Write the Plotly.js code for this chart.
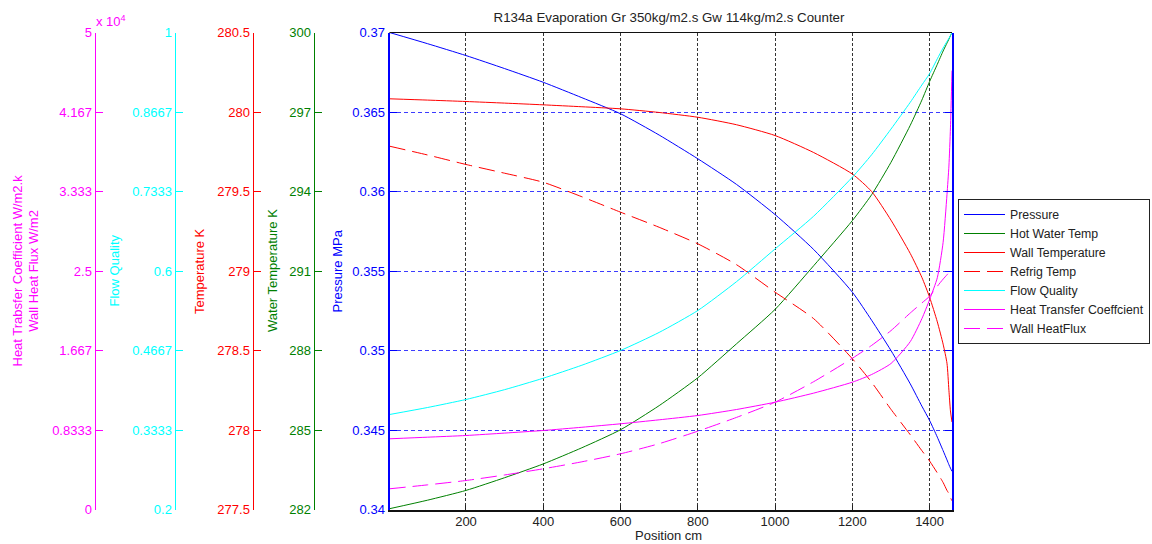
<!DOCTYPE html>
<html><head><meta charset="utf-8">
<script src="https://cdn.plot.ly/plotly-3.0.1.min.js"></script>
<style>html,body{margin:0;padding:0;background:#fff}#chart{width:1152px;height:544px}</style>
</head><body><div id="chart"></div>
<script>
// ---- data ----
const position     = [2, 100, 200, 300, 400, 500, 600, 700, 800, 900, 1000, 1100, 1200, 1250, 1300, 1350, 1380, 1400, 1420, 1435, 1445, 1450, 1454, 1458];
const pressure     = [0.37000, 0.36930, 0.36855, 0.36773, 0.36687, 0.36590, 0.36489, 0.36355, 0.36206, 0.36045, 0.35855, 0.35635, 0.35367, 0.35190, 0.35000, 0.34790, 0.34650, 0.34560, 0.34455, 0.34370, 0.34312, 0.34282, 0.34260, 0.34240];
const hotWaterTemp = [282.03, 282.35, 282.72, 283.20, 283.72, 284.33, 285.01, 285.92, 286.97, 288.25, 289.55, 291.20, 292.90, 293.88, 295.10, 296.50, 297.45, 298.15, 298.80, 299.30, 299.60, 299.75, 299.88, 300.00];
const wallTemp     = [280.083, 280.075, 280.066, 280.056, 280.045, 280.033, 280.020, 279.997, 279.967, 279.920, 279.852, 279.745, 279.610, 279.500, 279.320, 279.110, 278.960, 278.835, 278.680, 278.540, 278.420, 278.250, 278.120, 278.050];
const refrigTemp   = [279.785, 279.730, 279.670, 279.615, 279.558, 279.467, 279.370, 279.275, 279.171, 279.040, 278.867, 278.700, 278.448, 278.300, 278.130, 277.970, 277.870, 277.805, 277.730, 277.670, 277.620, 277.600, 277.575, 277.555];
const flowQuality  = [0.3593, 0.3710, 0.3845, 0.4010, 0.4202, 0.4420, 0.4667, 0.4970, 0.5337, 0.5820, 0.6370, 0.6920, 0.7573, 0.7950, 0.8380, 0.8830, 0.9120, 0.9310, 0.9560, 0.9740, 0.9850, 0.9900, 0.9950, 1.0000];
const heatTransfer = [7411, 7580, 7757, 8010, 8281, 8620, 8983, 9400, 9853, 10480, 11247, 12200, 13344, 14150, 15300, 17600, 20000, 22000, 24300, 28000, 33000, 36000, 40000, 46000];
const wallHeatFlux = [2170, 2580, 3040, 3620, 4266, 5000, 5839, 6900, 8208, 9650, 11247, 13400, 15850, 17200, 18750, 20600, 21650, 22350, 23400, 24150, 24600, 24850, 25050, 25250];

// ---- tick labels ----
const xTicks        = [200, 400, 600, 800, 1000, 1200, 1400];
const pressureTicks = [0.34, 0.345, 0.35, 0.355, 0.36, 0.365, 0.37];
const pressureText  = ['0.34', '0.345', '0.35', '0.355', '0.36', '0.365', '0.37'];
const waterTicks    = [282, 285, 288, 291, 294, 297, 300];
const tempTicks     = [277.5, 278, 278.5, 279, 279.5, 280, 280.5];
const tempText      = ['277.5', '278', '278.5', '279', '279.5', '280', '280.5'];
const qualityTicks  = [0.2, 0.2 + 0.8/6, 0.2 + 1.6/6, 0.6, 0.2 + 3.2/6, 0.2 + 4/6, 1];
const qualityText   = ['0.2', '0.3333', '0.4667', '0.6', '0.7333', '0.8667', '1'];
const htcTicks      = [0, 50000/6, 100000/6, 25000, 200000/6, 250000/6, 50000];
const htcText       = ['0', '0.8333', '1.667', '2.5', '3.333', '4.167', '5'];

// ---- layout helpers ----
const W = 1152, H = 544;
const px = x => x / W;
const py = y => 1 - y / H;
const xDom = [px(389.5), px(952)];
const yDom = [py(509.5), py(32.5)];
const FONT = 'Liberation Sans, Arial, Helvetica, sans-serif';
const BLUE = '#0000ff', GREEN = '#008000', RED = '#ff0000', CYAN = '#00ffff', MAG = '#ff00ff';

function line(name, y, axis, color, dash) {
  return {type: 'scatter', mode: 'lines', name: name, x: position, y: y, yaxis: axis,
          line: {color: color, width: 1, shape: 'spline', smoothing: 0.6, dash: dash || 'solid'}};
}
const DASH = '16px,7px';
const traces = [
  line('Pressure', pressure, 'y', BLUE),
  line('Hot Water Temp', hotWaterTemp, 'y2', GREEN),
  line('Wall Temperature', wallTemp, 'y3', RED),
  line('Refrig Temp', refrigTemp, 'y3', RED, DASH),
  line('Flow Quality', flowQuality, 'y4', CYAN),
  line('Heat Transfer Coeffcient', heatTransfer, 'y5', MAG),
  line('Wall HeatFlux', wallHeatFlux, 'y5', MAG, DASH)
];

function freeAxis(color, range, vals, text, xpos) {
  return {domain: yDom, range: range, overlaying: 'y', anchor: 'free', position: px(xpos), side: 'left',
          tickmode: 'array', tickvals: vals, ticktext: text, ticks: 'inside', ticklen: 7, tickcolor: color,
          showline: true, linecolor: color, linewidth: 1, showgrid: false, zeroline: false,
          tickfont: {family: FONT, size: 13, color: color}, fixedrange: true};
}

function vtitle(text, x, color) {
  return {text: text, x: px(x), y: py(271), xref: 'paper', yref: 'paper', xanchor: 'center', yanchor: 'middle',
          textangle: -90, showarrow: false, font: {family: FONT, size: 13, color: color}};
}

const layout = {
  width: W, height: H,
  margin: {l: 0, r: 0, t: 0, b: 0, pad: 0, autoexpand: false},
  paper_bgcolor: '#ffffff', plot_bgcolor: '#ffffff',
  font: {family: FONT, size: 13, color: '#222'},
  title: {text: 'R134a Evaporation Gr 350kg/m2.s Gw 114kg/m2.s Counter', x: px(669), y: py(17),
          xref: 'paper', yref: 'container', xanchor: 'center', yanchor: 'middle',
          font: {family: FONT, size: 13.3, color: '#222'}},
  showlegend: true,
  legend: {x: px(958), y: py(199), xanchor: 'left', yanchor: 'top', bgcolor: '#ffffff',
           bordercolor: '#222', borderwidth: 1, itemwidth: 41, tracegroupgap: 0,
           font: {family: FONT, size: 12.3, color: '#222'}},
  xaxis: {domain: xDom, range: [2, 1458], tickmode: 'array', tickvals: xTicks, ticks: 'inside', ticklen: 5,
          tickcolor: '#222', showline: true, linecolor: '#111', linewidth: 2, showgrid: true,
          gridcolor: '#333', gridwidth: 1, griddash: '3px,2px', zeroline: false, ticklabelstandoff: -1,
          tickfont: {family: FONT, size: 13, color: '#222'}, fixedrange: true},
  yaxis: {domain: yDom, range: [0.34, 0.37], tickmode: 'array', tickvals: pressureTicks, ticktext: pressureText,
          ticks: 'inside', ticklen: 7, tickcolor: BLUE, showline: true, linecolor: BLUE, linewidth: 2,
          mirror: 'ticks', showgrid: true, gridcolor: '#3c3cff', gridwidth: 1, griddash: '4px,3px', zeroline: false,
          tickfont: {family: FONT, size: 13, color: BLUE}, fixedrange: true},
  yaxis2: freeAxis(GREEN, [282, 300], waterTicks, waterTicks.map(String), 313.5),
  yaxis3: freeAxis(RED, [277.5, 280.5], tempTicks, tempText, 252.5),
  yaxis4: freeAxis(CYAN, [0.2, 1], qualityTicks, qualityText, 174.5),
  yaxis5: freeAxis(MAG, [0, 50000], htcTicks, htcText, 94.5),
  shapes: [
    {type: 'line', xref: 'paper', yref: 'paper', x0: xDom[0], x1: xDom[1], y0: yDom[1], y1: yDom[1],
     line: {color: '#111', width: 1}}
  ],
  annotations: [
    vtitle('Pressure MPa', 336.5, BLUE),
    vtitle('Water Temperature K', 272, GREEN),
    vtitle('Temperature K', 199, RED),
    vtitle('Flow Quality', 113.5, CYAN),
    vtitle('Heat Trabsfer Coefficient W/m2.k<br>Wall Heat Flux W/m2', 25.5, MAG),
    {text: 'x 10<sup>4</sup>', x: px(94), y: py(21), xref: 'paper', yref: 'paper', xanchor: 'left', yanchor: 'middle',
     showarrow: false, font: {family: FONT, size: 13, color: MAG}},
    {text: 'Position cm', x: px(668), y: py(544), xref: 'paper', yref: 'paper', xanchor: 'center', yanchor: 'bottom',
     borderpad: 0, showarrow: false, font: {family: FONT, size: 13, color: '#222'}}
  ]
};

Plotly.newPlot('chart', traces, layout, {displayModeBar: false, staticPlot: true});
</script>
</body></html>
